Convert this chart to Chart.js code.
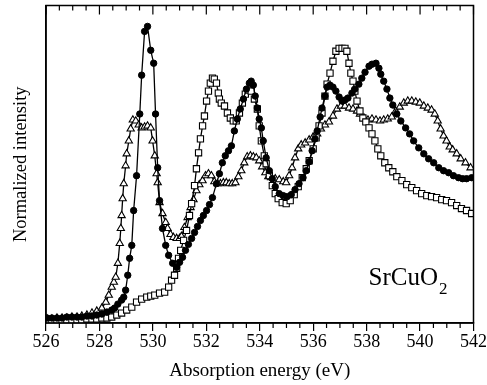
<!DOCTYPE html>
<html lang="en">
<head>
<meta charset="UTF-8">
<title>SrCuO2 absorption</title>
<script src="https://cdn.jsdelivr.net/npm/chart.js"></script>
<style>
    body {
        margin: 0;
        background: #fff;
    }
    .chart-container {
        position: relative;
        width: 487px;
        height: 385px;
    }
</style>
</head>
<body>
<div class="chart-container"><canvas id="xasChart"></canvas></div>
<script>
// Tick labels on the energy axis
const energyTicks = [526, 528, 530, 532, 534, 536, 538, 540, 542];

// Filled circles
const circlesE = [526.04,526.22,526.41,526.60,526.78,526.97,527.16,527.34,527.53,527.72,
    527.90,528.09,528.28,528.46,528.57,528.69,528.83,528.91,528.98,529.06,
    529.13,529.21,529.28,529.39,529.51,529.58,529.69,529.80,529.92,530.03,
    530.10,530.18,530.25,530.36,530.48,530.59,530.74,530.89,531.00,531.11,
    531.22,531.33,531.45,531.56,531.67,531.78,531.89,532.01,532.12,532.23,
    532.38,532.49,532.60,532.71,532.83,532.94,533.05,533.16,533.27,533.39,
    533.50,533.61,533.68,533.76,533.83,533.91,533.98,534.06,534.13,534.24,
    534.36,534.47,534.58,534.73,534.88,535.03,535.18,535.32,535.47,535.62,
    535.74,535.85,535.96,536.07,536.15,536.26,536.33,536.44,536.52,536.63,
    536.74,536.85,536.97,537.08,537.19,537.30,537.45,537.56,537.71,537.82,
    537.94,538.09,538.20,538.35,538.46,538.53,538.64,538.76,538.87,538.98,
    539.13,539.28,539.46,539.61,539.76,539.95,540.14,540.32,540.51,540.70,
    540.88,541.07,541.25,541.44,541.59,541.74,541.93];
const circlesI = [0.05,0.05,0.05,0.05,0.06,0.06,0.06,0.06,0.07,0.07,
    0.08,0.09,0.11,0.13,0.15,0.19,0.23,0.26,0.33,0.48,
    0.65,0.78,1.13,1.48,2.10,2.49,2.93,2.98,2.74,2.61,
    2.10,1.56,1.23,0.95,0.78,0.68,0.60,0.56,0.61,0.66,
    0.73,0.79,0.85,0.91,0.97,1.03,1.08,1.13,1.19,1.26,
    1.40,1.50,1.61,1.68,1.73,1.78,1.93,2.05,2.15,2.25,
    2.35,2.41,2.43,2.39,2.28,2.16,2.05,1.96,1.83,1.66,
    1.53,1.45,1.37,1.30,1.28,1.27,1.29,1.34,1.40,1.46,
    1.53,1.62,1.73,1.85,1.93,2.07,2.16,2.28,2.37,2.39,
    2.37,2.33,2.27,2.23,2.24,2.26,2.31,2.35,2.40,2.46,
    2.52,2.58,2.60,2.61,2.56,2.50,2.43,2.35,2.26,2.19,
    2.10,2.03,1.96,1.90,1.83,1.76,1.70,1.65,1.61,1.56,
    1.53,1.51,1.48,1.46,1.45,1.45,1.46];

// Open squares
const squaresE = [526.04,526.22,526.41,526.60,526.78,526.97,527.16,527.34,527.53,527.72,
    527.90,528.09,528.28,528.46,528.65,528.83,529.02,529.21,529.39,529.58,
    529.77,529.92,530.07,530.25,530.44,530.59,530.70,530.81,530.89,530.96,
    531.04,531.15,531.26,531.37,531.45,531.56,531.63,531.71,531.78,531.86,
    531.93,532.01,532.08,532.15,532.23,532.30,532.38,532.45,532.49,532.56,
    532.68,532.79,532.90,533.01,533.12,533.24,533.35,533.46,533.57,533.68,
    533.80,533.91,533.98,534.06,534.17,534.24,534.36,534.47,534.58,534.69,
    534.84,534.99,535.14,535.29,535.44,535.59,535.74,535.85,536.00,536.11,
    536.22,536.33,536.44,536.52,536.63,536.74,536.85,536.97,537.08,537.19,
    537.26,537.34,537.41,537.49,537.56,537.64,537.75,537.86,537.97,538.09,
    538.20,538.31,538.42,538.53,538.68,538.83,538.98,539.13,539.32,539.50,
    539.69,539.87,540.06,540.25,540.43,540.62,540.81,540.99,541.18,541.37,
    541.55,541.74,541.93];
const squaresI = [0.03,0.03,0.03,0.03,0.03,0.03,0.03,0.03,0.04,0.04,
    0.04,0.05,0.05,0.06,0.08,0.10,0.13,0.16,0.21,0.24,
    0.26,0.27,0.28,0.30,0.31,0.36,0.43,0.48,0.55,0.65,
    0.73,0.83,0.93,1.08,1.20,1.38,1.55,1.71,1.85,1.98,
    2.08,2.23,2.33,2.41,2.46,2.45,2.41,2.31,2.25,2.21,
    2.18,2.11,2.06,2.03,2.03,2.11,2.21,2.30,2.34,2.33,
    2.25,2.15,1.98,1.83,1.68,1.60,1.48,1.38,1.30,1.25,
    1.21,1.20,1.23,1.29,1.37,1.46,1.55,1.63,1.75,1.86,
    1.98,2.11,2.28,2.40,2.51,2.63,2.73,2.76,2.76,2.76,
    2.73,2.61,2.51,2.43,2.33,2.23,2.13,2.06,2.02,1.96,
    1.90,1.83,1.75,1.68,1.61,1.56,1.52,1.47,1.43,1.39,
    1.36,1.33,1.30,1.28,1.27,1.26,1.24,1.23,1.21,1.18,
    1.15,1.13,1.10];

// Open triangles
const trianglesE = [526.04,526.22,526.41,526.60,526.78,526.97,527.16,527.34,527.53,527.72,
    527.90,528.09,528.24,528.35,528.46,528.54,528.61,528.69,528.76,528.80,
    528.83,528.87,528.91,528.98,529.02,529.10,529.17,529.25,529.36,529.47,
    529.58,529.69,529.80,529.92,529.99,530.07,530.14,530.18,530.25,530.36,
    530.48,530.55,530.66,530.77,530.89,531.00,531.07,531.18,531.30,531.41,
    531.52,531.63,531.74,531.86,531.97,532.08,532.19,532.30,532.42,532.53,
    532.64,532.75,532.86,532.97,533.09,533.20,533.31,533.42,533.53,533.65,
    533.76,533.87,533.98,534.09,534.21,534.32,534.43,534.58,534.73,534.88,
    534.99,535.10,535.21,535.32,535.44,535.55,535.70,535.85,536.00,536.15,
    536.29,536.44,536.59,536.74,536.89,537.04,537.19,537.34,537.49,537.64,
    537.75,537.90,538.05,538.20,538.35,538.50,538.64,538.79,538.94,539.09,
    539.24,539.39,539.54,539.69,539.84,539.99,540.14,540.29,540.43,540.55,
    540.66,540.77,540.88,540.99,541.11,541.22,541.37,541.52,541.70,541.89];
const trianglesI = [0.04,0.04,0.05,0.05,0.05,0.06,0.06,0.07,0.08,0.10,
    0.12,0.15,0.21,0.28,0.36,0.41,0.46,0.60,0.80,0.95,
    1.08,1.25,1.40,1.58,1.70,1.83,1.95,2.04,2.03,1.99,
    1.96,1.97,1.98,1.96,1.83,1.68,1.50,1.41,1.21,1.10,
    1.01,0.95,0.89,0.86,0.85,0.85,0.87,0.96,1.06,1.16,
    1.24,1.33,1.39,1.43,1.48,1.50,1.48,1.42,1.40,1.40,
    1.41,1.41,1.40,1.40,1.41,1.47,1.53,1.61,1.67,1.68,
    1.67,1.66,1.63,1.57,1.51,1.47,1.46,1.45,1.44,1.42,
    1.41,1.48,1.56,1.66,1.75,1.79,1.81,1.84,1.87,1.90,
    1.95,1.99,2.02,2.08,2.15,2.18,2.18,2.16,2.15,2.13,
    2.10,2.06,2.04,2.05,2.04,2.03,2.04,2.05,2.07,2.13,
    2.17,2.21,2.23,2.23,2.22,2.21,2.18,2.16,2.14,2.10,
    2.03,1.95,1.88,1.83,1.77,1.74,1.70,1.65,1.61,1.56];

const serif = '"Liberation Serif", "Times New Roman", serif';

function toPoints(xs, ys) {
    return xs.map((x, i) => ({ x: x, y: ys[i] }));
}

// box around the plot plus the minor ticks and the inward ticks on top
const frameTicks = {
    id: 'frameTicks',
    afterDraw(chart) {
        const { ctx, chartArea: a, scales: { x } } = chart;
        ctx.save();
        ctx.strokeStyle = '#000';
        ctx.lineWidth = 1.5;
        ctx.strokeRect(a.left, a.top, a.right - a.left, a.bottom - a.top);
        ctx.lineWidth = 1.2;
        ctx.beginPath();
        for (let v = 526; v <= 542; v += 0.5) {
            const px = x.getPixelForValue(v);
            const major = v % 2 === 0;
            ctx.moveTo(px, a.top);
            ctx.lineTo(px, a.top + (major ? 9 : 5));
            if (!major) {
                ctx.moveTo(px, a.bottom);
                ctx.lineTo(px, a.bottom + 5);
            }
        }
        ctx.stroke();
        ctx.restore();
    }
};

const compoundLabel = {
    id: 'compoundLabel',
    afterDraw(chart) {
        const { ctx, chartArea: a } = chart;
        ctx.save();
        ctx.fillStyle = '#000';
        ctx.textBaseline = 'alphabetic';
        ctx.font = '25px ' + serif;
        const x0 = a.right - 105, y0 = a.bottom - 38;
        ctx.fillText('SrCuO', x0, y0);
        const w = ctx.measureText('SrCuO').width;
        ctx.font = '17px ' + serif;
        ctx.fillText('2', x0 + w + 1, y0 + 9);
        ctx.restore();
    }
};

const ctx = document.getElementById('xasChart').getContext('2d');

const xasChart = new Chart(ctx, {
    type: 'line',
    data: {
        datasets: [{
            data: toPoints(circlesE, circlesI),
            borderColor: '#000',
            borderWidth: 1.3,
            pointStyle: 'circle',
            pointRadius: 3.2,
            pointBackgroundColor: '#000',
            pointBorderColor: '#000',
            pointBorderWidth: 1
        }, {
            data: toPoints(squaresE, squaresI),
            borderColor: '#000',
            borderWidth: 1.3,
            pointStyle: 'rect',
            pointRadius: 4.4,
            pointBackgroundColor: '#fff',
            pointBorderColor: '#000',
            pointBorderWidth: 1.1
        }, {
            data: toPoints(trianglesE, trianglesI),
            borderColor: '#000',
            borderWidth: 1.3,
            pointStyle: 'triangle',
            pointRadius: 4.2,
            pointBackgroundColor: '#fff',
            pointBorderColor: '#000',
            pointBorderWidth: 1.1
        }]
    },
    options: {
        responsive: true,
        maintainAspectRatio: false,
        animation: false,
        layout: { padding: { top: 4, right: 12, left: 0, bottom: 0 } },
        plugins: {
            legend: { display: false },
            tooltip: { enabled: false }
        },
        scales: {
            x: {
                type: 'linear',
                min: 526,
                max: 542,
                afterBuildTicks: axis => { axis.ticks = energyTicks.map(v => ({ value: v })); },
                ticks: {
                    color: '#000',
                    autoSkip: false,
                    maxRotation: 0,
                    padding: 0,
                    font: { family: serif, size: 18 }
                },
                grid: {
                    display: true,
                    drawOnChartArea: false,
                    drawTicks: true,
                    tickLength: 8,
                    color: '#000',
                    lineWidth: 1.2
                },
                border: { display: true, color: '#000', width: 1.5 },
                title: {
                    display: true,
                    text: 'Absorption energy (eV)',
                    color: '#000',
                    font: { family: serif, size: 19 },
                    padding: { top: 0, bottom: 3 }
                },
                afterFit: axis => { axis.height = 62; }
            },
            y: {
                min: 0,
                max: 3.19,
                ticks: { display: false },
                grid: { display: false },
                border: { display: true, color: '#000', width: 1.5 },
                title: {
                    display: true,
                    text: 'Normalized intensity',
                    color: '#000',
                    font: { family: serif, size: 18.5 },
                    padding: { top: 10, bottom: 0 }
                },
                afterFit: axis => { axis.width = 46; }
            }
        }
    },
    plugins: [frameTicks, compoundLabel]
});
</script>
</body>
</html>
